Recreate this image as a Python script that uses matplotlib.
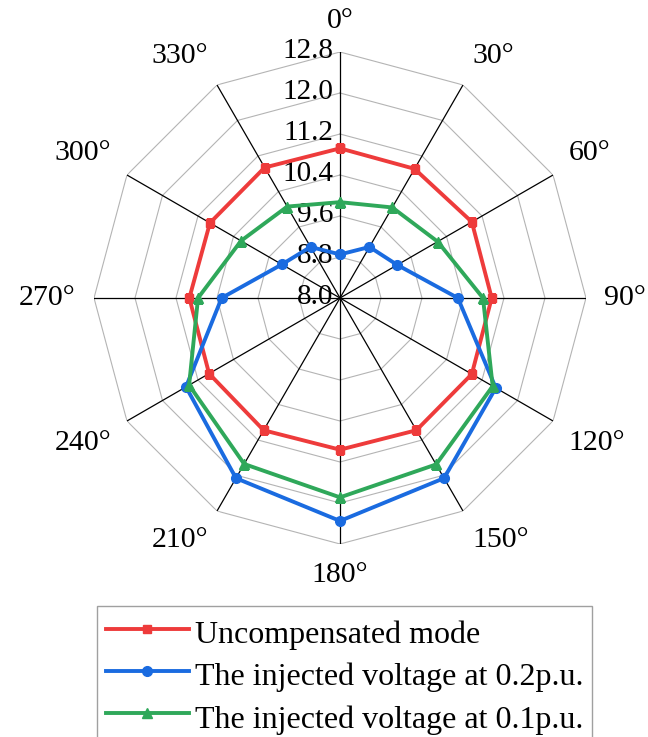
import numpy as np
import matplotlib
matplotlib.use("Agg")
import matplotlib.pyplot as plt
from matplotlib.transforms import ScaledTranslation

plt.rcParams['font.family'] = ['Liberation Serif', 'DejaVu Serif']

# ---- data ----
angle_labels = ["0°", "30°", "60°", "90°", "120°", "150°", "180°",
                "210°", "240°", "270°", "300°", "330°"]
angles_deg = [0, 30, 60, 90, 120, 150, 180, 210, 240, 270, 300, 330]
r_ticks = [8.0, 8.8, 9.6, 10.4, 11.2, 12.0, 12.8]
r_tick_labels = ["8.0", "8.8", "9.6", "10.4", "11.2", "12.0", "12.8"]

uncompensated = [10.92, 10.91, 10.97, 10.96, 10.97, 10.98, 10.96, 10.98, 10.95, 10.94, 10.93, 10.94]
inj_02 = [8.85, 9.15, 9.29, 10.30, 11.51, 12.06, 12.35, 12.06, 11.47, 10.31, 9.31, 9.15]
inj_01 = [9.87, 10.04, 10.20, 10.79, 11.44, 11.75, 11.89, 11.74, 11.40, 10.77, 10.23, 10.06]

series_names = ["Uncompensated mode",
                "The injected voltage at 0.2p.u.",
                "The injected voltage at 0.1p.u."]

# ---- figure ----
W, H = 648, 737
fig = plt.figure(figsize=(W / 100, H / 100), dpi=100)
ax = fig.add_axes([94 / W, 1 - 544 / H, 492 / W, 492 / H], projection='polar')
ax.set_theta_zero_location('N')
ax.set_theta_direction(-1)
ax.set_ylim(r_ticks[0], r_ticks[-1])
ax.grid(False)
ax.spines['polar'].set_visible(False)
ax.set_xticks([])
ax.set_yticks([])
ax.patch.set_visible(False)

theta = np.deg2rad(angles_deg)
theta_c = np.append(theta, theta[0])

# polygon grid
for lv in r_ticks[1:]:
    ax.plot(theta_c, [lv] * len(theta_c), color='#b4b4b4', lw=0.8, zorder=1)
# spokes
for t in theta:
    ax.plot([t, t], [r_ticks[0], r_ticks[-1]], color='black', lw=0.9, zorder=2)

# radial labels
off = ScaledTranslation(-4.5 / 72, 1 / 72, fig.dpi_scale_trans)
for lv, lab in zip(r_ticks, r_tick_labels):
    ax.text(0, lv, lab, ha='right', va='center', fontsize=21,
            transform=ax.transData + off, zorder=3)

# angle labels
pad = 13
for t, lab in zip(theta, angle_labels):
    s, c = np.sin(t), np.cos(t)
    ha = 'left' if s > 0.1 else ('right' if s < -0.1 else 'center')
    va = 'bottom' if c > 0.1 else ('top' if c < -0.1 else 'center')
    tr = ax.transData + ScaledTranslation(pad * s / 72, pad * c / 72, fig.dpi_scale_trans)
    ax.text(t, r_ticks[-1], lab, ha=ha, va=va, fontsize=21.5, transform=tr)

# data
ax.plot(theta_c, uncompensated + uncompensated[:1], color='#ee3b3b', lw=2.8,
        marker='s', ms=6, label=series_names[0], zorder=5)
ax.plot(theta_c, inj_02 + inj_02[:1], color='#1a6be0', lw=2.8,
        marker='o', ms=7, label=series_names[1], zorder=5)
ax.plot(theta_c, inj_01 + inj_01[:1], color='#2fa85a', lw=2.8,
        marker='^', ms=7, label=series_names[2], zorder=5)

leg = fig.legend(loc='upper left', bbox_to_anchor=(97 / W, 1 - 606 / H),
                 fontsize=23, frameon=True, fancybox=False,
                 edgecolor='#888888', handlelength=2.6, handletextpad=0.2,
                 handleheight=1.32, borderpad=0.27, labelspacing=0.22,
                 borderaxespad=0)
leg.get_frame().set_linewidth(1.0)

fig.savefig('out.png', dpi=100)
